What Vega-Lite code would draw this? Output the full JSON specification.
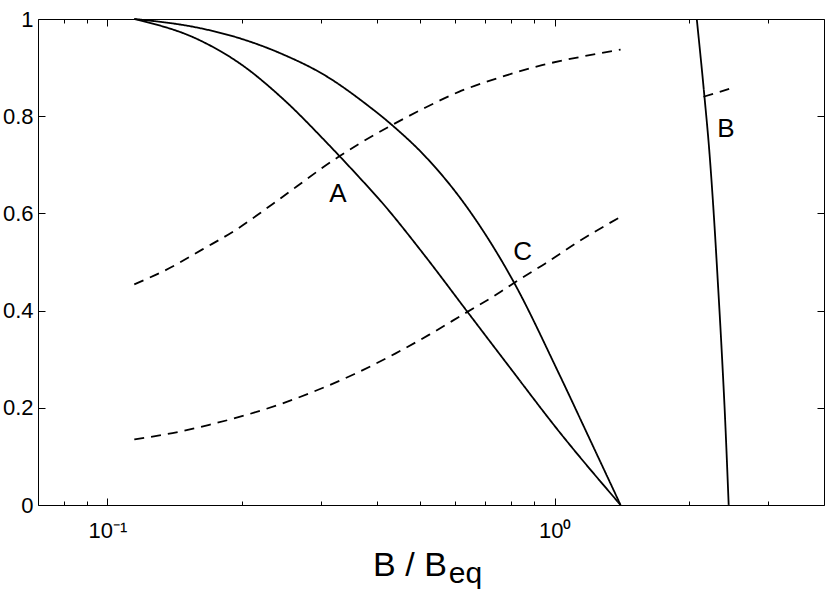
{
  "$schema": "https://vega.github.io/schema/vega-lite/v6.json",
  "width": 786,
  "height": 486,
  "autosize": {"type": "none"},
  "padding": {"left": 38, "top": 19, "right": 6, "bottom": 89},
  "config": {
    "view": {"stroke": null},
    "font": "Liberation Sans",
    "axis": {
      "domainColor": "black",
      "domainWidth": 1,
      "tickColor": "black",
      "tickWidth": 1,
      "grid": false,
      "labelColor": "black",
      "labelFont": "Liberation Sans",
      "labelFontSize": 21,
      "title": null
    }
  },
  "datasets": {
    "curves": [
      {"series": "A", "style": "solid", "x": 0.1149, "y": 1.0},
      {"series": "A", "style": "solid", "x": 0.1605, "y": 0.9568},
      {"series": "A", "style": "solid", "x": 0.2001, "y": 0.9053},
      {"series": "A", "style": "solid", "x": 0.2458, "y": 0.8374},
      {"series": "A", "style": "solid", "x": 0.313, "y": 0.7407},
      {"series": "A", "style": "solid", "x": 0.3652, "y": 0.6749},
      {"series": "A", "style": "solid", "x": 0.4048, "y": 0.6296},
      {"series": "A", "style": "solid", "x": 0.5153, "y": 0.5103},
      {"series": "A", "style": "solid", "x": 0.6264, "y": 0.4074},
      {"series": "A", "style": "solid", "x": 0.7894, "y": 0.286},
      {"series": "A", "style": "solid", "x": 1.0207, "y": 0.1523},
      {"series": "A", "style": "solid", "x": 1.404, "y": 0.0},
      {"series": "C", "style": "solid", "x": 0.1149, "y": 1.0},
      {"series": "C", "style": "solid", "x": 0.1605, "y": 0.9815},
      {"series": "C", "style": "solid", "x": 0.2001, "y": 0.9588},
      {"series": "C", "style": "solid", "x": 0.2458, "y": 0.928},
      {"series": "C", "style": "solid", "x": 0.3083, "y": 0.8827},
      {"series": "C", "style": "solid", "x": 0.3785, "y": 0.8251},
      {"series": "C", "style": "solid", "x": 0.4328, "y": 0.7819},
      {"series": "C", "style": "solid", "x": 0.5153, "y": 0.716},
      {"series": "C", "style": "solid", "x": 0.6362, "y": 0.6132},
      {"series": "C", "style": "solid", "x": 0.8101, "y": 0.4588},
      {"series": "C", "style": "solid", "x": 1.0207, "y": 0.2716},
      {"series": "C", "style": "solid", "x": 1.209, "y": 0.1276},
      {"series": "C", "style": "solid", "x": 1.404, "y": 0.0},
      {"series": "B", "style": "solid", "x": 2.078, "y": 1.0},
      {"series": "B", "style": "solid", "x": 2.162, "y": 0.84},
      {"series": "B", "style": "solid", "x": 2.216, "y": 0.73},
      {"series": "B", "style": "solid", "x": 2.27, "y": 0.593},
      {"series": "B", "style": "solid", "x": 2.317, "y": 0.456},
      {"series": "B", "style": "solid", "x": 2.362, "y": 0.319},
      {"series": "B", "style": "solid", "x": 2.403, "y": 0.182},
      {"series": "B", "style": "solid", "x": 2.449, "y": 0.0},
      {"series": "D1", "style": "dashed", "x": 0.1149, "y": 0.454},
      {"series": "D1", "style": "dashed", "x": 0.1375, "y": 0.487},
      {"series": "D1", "style": "dashed", "x": 0.1632, "y": 0.526},
      {"series": "D1", "style": "dashed", "x": 0.1938, "y": 0.566},
      {"series": "D1", "style": "dashed", "x": 0.2339, "y": 0.619},
      {"series": "D1", "style": "dashed", "x": 0.3295, "y": 0.717},
      {"series": "D1", "style": "dashed", "x": 0.3652, "y": 0.743},
      {"series": "D1", "style": "dashed", "x": 0.4334, "y": 0.782},
      {"series": "D1", "style": "dashed", "x": 0.5146, "y": 0.818},
      {"series": "D1", "style": "dashed", "x": 0.6105, "y": 0.85},
      {"series": "D1", "style": "dashed", "x": 0.7499, "y": 0.879},
      {"series": "D1", "style": "dashed", "x": 0.9369, "y": 0.905},
      {"series": "D1", "style": "dashed", "x": 1.171, "y": 0.924},
      {"series": "D1", "style": "dashed", "x": 1.404, "y": 0.937},
      {"series": "D2", "style": "dashed", "x": 0.1149, "y": 0.135},
      {"series": "D2", "style": "dashed", "x": 0.1399, "y": 0.148},
      {"series": "D2", "style": "dashed", "x": 0.169, "y": 0.165},
      {"series": "D2", "style": "dashed", "x": 0.204, "y": 0.185},
      {"series": "D2", "style": "dashed", "x": 0.2462, "y": 0.209},
      {"series": "D2", "style": "dashed", "x": 0.2923, "y": 0.235},
      {"series": "D2", "style": "dashed", "x": 0.356, "y": 0.269},
      {"series": "D2", "style": "dashed", "x": 0.4411, "y": 0.312},
      {"series": "D2", "style": "dashed", "x": 0.5234, "y": 0.35},
      {"series": "D2", "style": "dashed", "x": 0.6264, "y": 0.393},
      {"series": "D2", "style": "dashed", "x": 0.7499, "y": 0.436},
      {"series": "D2", "style": "dashed", "x": 0.8173, "y": 0.459},
      {"series": "D2", "style": "dashed", "x": 0.9533, "y": 0.497},
      {"series": "D2", "style": "dashed", "x": 1.131, "y": 0.542},
      {"series": "D2", "style": "dashed", "x": 1.404, "y": 0.593},
      {"series": "D3", "style": "dashed", "x": 2.151, "y": 0.84},
      {"series": "D3", "style": "dashed", "x": 2.455, "y": 0.856}
    ],
    "labels": [
      {"label": "A", "x": 0.3279, "y": 0.624},
      {"label": "C", "x": 0.8484, "y": 0.504},
      {"label": "B", "x": 2.415, "y": 0.758}
    ],
    "title1": [{"t": "B / B", "x": 0.577, "y": -0.146}],
    "title2": [{"t": "eq", "x": 0.577, "y": -0.16}]
  },
  "layer": [
    {
      "data": {"name": "curves"},
      "mark": {"type": "line", "strokeWidth": 1.8, "color": "black", "interpolate": "monotone"},
      "encoding": {
        "x": {
          "field": "x", "type": "quantitative",
          "scale": {"type": "log", "domain": [0.07, 4], "nice": false},
          "axis": {
            "orient": "bottom",
            "values": [0.08, 0.09, 0.1, 0.2, 0.3, 0.4, 0.5, 0.6, 0.7, 0.8, 0.9, 1, 2, 3],
            "labelExpr": "datum.value == 0.1 ? '10⁻¹' : datum.value == 1 ? '10⁰' : ''",
            "tickSize": {"condition": {"test": "datum.value == 0.1 || datum.value == 1", "value": -7}, "value": -4},
            "labelPadding": 22,
            "labelFontSize": 22,
            "labelBaseline": "top",
            "labelFlush": false,
            "labelOverlap": false
          }
        },
        "y": {
          "field": "y", "type": "quantitative",
          "scale": {"domain": [0, 1], "nice": false},
          "axis": {
            "orient": "left",
            "values": [0, 0.2, 0.4, 0.6, 0.8, 1],
            "format": "~g",
            "tickSize": -7,
            "labelPadding": 12,
            "labelFontSize": 22,
            "labelFlush": false,
            "labelOverlap": false
          }
        },
        "detail": {"field": "series"},
        "strokeDash": {
          "field": "style", "type": "nominal",
          "scale": {"domain": ["solid", "dashed"], "range": [[1, 0], [10, 7]]},
          "legend": null
        }
      }
    },
    {
      "data": {"name": "labels"},
      "mark": {"type": "text", "fontSize": 26, "align": "center", "baseline": "alphabetic", "color": "black", "font": "Liberation Sans"},
      "encoding": {
        "x": {
          "field": "x", "type": "quantitative",
          "axis": {
            "orient": "top",
            "values": [0.08, 0.09, 0.1, 0.2, 0.3, 0.4, 0.5, 0.6, 0.7, 0.8, 0.9, 1, 2, 3],
            "labels": false,
            "tickSize": {"condition": {"test": "datum.value == 0.1 || datum.value == 1", "value": -7}, "value": -4}
          }
        },
        "y": {
          "field": "y", "type": "quantitative",
          "axis": {
            "orient": "right",
            "values": [0, 0.2, 0.4, 0.6, 0.8, 1],
            "labels": false,
            "tickSize": -7
          }
        },
        "text": {"field": "label"}
      }
    },
    {
      "data": {"name": "title1"},
      "mark": {"type": "text", "fontSize": 34, "align": "right", "baseline": "alphabetic", "color": "black", "font": "Liberation Sans", "dx": -1},
      "encoding": {
        "x": {"field": "x", "type": "quantitative", "axis": null},
        "y": {"field": "y", "type": "quantitative", "axis": null},
        "text": {"field": "t"}
      }
    },
    {
      "data": {"name": "title2"},
      "mark": {"type": "text", "fontSize": 30, "align": "left", "baseline": "alphabetic", "color": "black", "font": "Liberation Sans", "dx": 1},
      "encoding": {
        "x": {"field": "x", "type": "quantitative", "axis": null},
        "y": {"field": "y", "type": "quantitative", "axis": null},
        "text": {"field": "t"}
      }
    }
  ],
  "resolve": {"axis": {"x": "independent", "y": "independent"}}
}
